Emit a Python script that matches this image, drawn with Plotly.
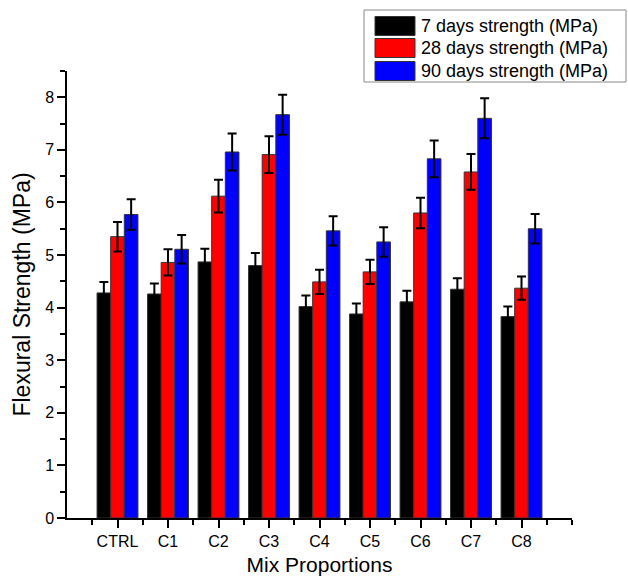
import plotly.graph_objects as go

categories = ["CTRL", "C1", "C2", "C3", "C4", "C5", "C6", "C7", "C8"]
series_names = ["7 days strength (MPa)", "28 days strength (MPa)", "90 days strength (MPa)"]
strength_7 = [4.28, 4.26, 4.87, 4.80, 4.02, 3.88, 4.11, 4.35, 3.83]
strength_28 = [5.35, 4.86, 6.12, 6.91, 4.49, 4.68, 5.80, 6.58, 4.37]
strength_90 = [5.77, 5.11, 6.96, 7.67, 5.46, 5.25, 6.83, 7.60, 5.50]
err_7 = [0.21, 0.20, 0.25, 0.24, 0.21, 0.20, 0.21, 0.21, 0.19]
err_28 = [0.28, 0.25, 0.31, 0.35, 0.23, 0.23, 0.29, 0.34, 0.22]
err_90 = [0.29, 0.27, 0.35, 0.38, 0.28, 0.28, 0.35, 0.38, 0.28]
colors = ["#000000", "#ff0000", "#0000ff"]

W, H = 628, 576
L, R, T, B = 67, 572, 71, 518
FONT = "Liberation Sans, Arial, sans-serif"

xpos = list(range(1, len(categories) + 1))

fig = go.Figure()
for name, vals, errs, col in zip(series_names, [strength_7, strength_28, strength_90],
                                 [err_7, err_28, err_90], colors):
    fig.add_trace(go.Bar(
        x=xpos, y=vals, name=name, showlegend=False,
        marker=dict(color=col, line=dict(color="#333333", width=1)),
        error_y=dict(type="data", array=errs, visible=True, color="#000000",
                     thickness=2, width=4.5),
    ))

def px_x(p):
    return (p - L) / (R - L)

def px_y(p):
    return (B - p) / (B - T)

shapes = [dict(type="rect", xref="paper", yref="paper",
               x0=px_x(364), x1=px_x(626), y0=px_y(82), y1=px_y(10),
               line=dict(color="#888888", width=1), fillcolor="white")]
annotations = []
row_centers = [26, 48, 71]
for name, col, cy in zip(series_names, colors, row_centers):
    shapes.append(dict(type="rect", xref="paper", yref="paper",
                       x0=px_x(375), x1=px_x(415), y0=px_y(cy + 9.5), y1=px_y(cy - 9.5),
                       line=dict(color="#333333", width=1), fillcolor=col))
    annotations.append(dict(xref="paper", yref="paper", x=px_x(419), y=px_y(cy),
                            xanchor="left", yanchor="middle", showarrow=False,
                            text=name, font=dict(family=FONT, size=18, color="black")))

fig.update_layout(
    width=W, height=H,
    margin=dict(l=L, r=W - R, t=T, b=H - B, pad=0, autoexpand=False),
    paper_bgcolor="white", plot_bgcolor="white",
    barmode="group", bargap=0.19, bargroupgap=0,
    font=dict(family=FONT, size=16, color="black"),
    shapes=shapes, annotations=annotations,
    xaxis=dict(range=[0, 10], tickmode="array", tickvals=xpos, ticktext=categories,
               automargin=False,
               showline=True, linecolor="black", linewidth=1.5,
               ticks="outside", ticklen=8, tickwidth=1.5, tickcolor="black",
               minor=dict(tickmode="array", tickvals=[0.5 + i for i in range(10)] + [10],
                          ticks="outside", ticklen=5, tickwidth=1.5, tickcolor="black"),
               showgrid=False, zeroline=False,
               tickfont=dict(family=FONT, size=16),
               title=dict(text="Mix Proportions", font=dict(family=FONT, size=21), standoff=17)),
    yaxis=dict(range=[0, 8.5], tickmode="array", tickvals=list(range(0, 9)),
               automargin=False,
               showline=True, linecolor="black", linewidth=1.5,
               ticks="outside", ticklen=8, tickwidth=1.5, tickcolor="black",
               minor=dict(tickmode="array", tickvals=[0.5 + i for i in range(9)],
                          ticks="outside", ticklen=5, tickwidth=1.5, tickcolor="black"),
               showgrid=False, zeroline=False,
               tickfont=dict(family=FONT, size=16),
               title=dict(text="Flexural Strength (MPa)", font=dict(family=FONT, size=23), standoff=8)),
)

fig.write_html("out.html")
